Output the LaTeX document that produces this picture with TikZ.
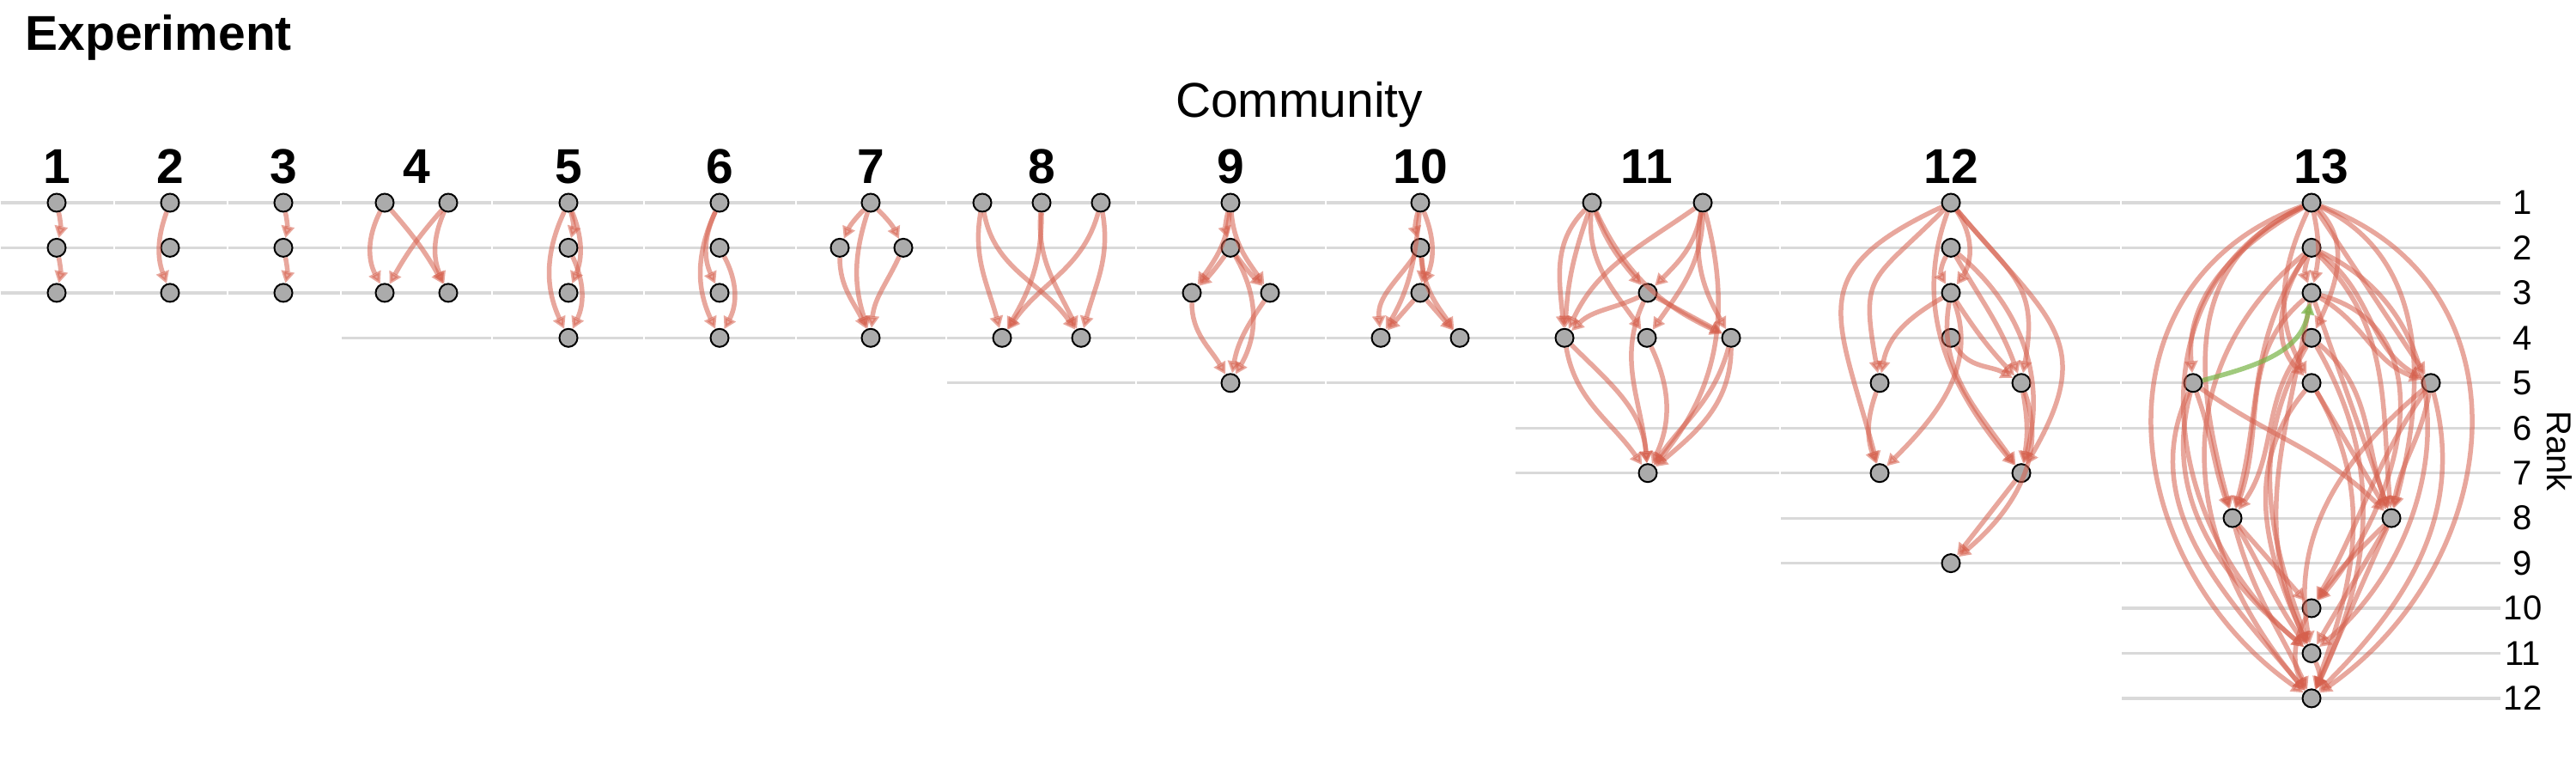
\documentclass[tikz,border=0pt]{standalone}
\usepackage{fontspec}
\setmainfont{Liberation Sans}
\usetikzlibrary{arrows.meta}

\begin{document}
\begin{tikzpicture}[
  vertex/.style={circle, draw=black, fill=r171g171b171, line width=0.02cm, minimum size=0.21cm, inner sep=0pt},
  link/.style={draw=r214g96b77, opacity=0.55, line width=0.055cm, -{Triangle[length=0.14cm, width=0.15cm]}},
  linkup/.style={link, draw=r120g180b70, opacity=0.7},
  gridline/.style={draw=r217g217b217, line width=0.032cm},
  commlabel/.style={font=\bfseries\fontsize{16.2}{19}\selectfont, anchor=base, inner sep=0pt},
  ranklabel/.style={font=\fontsize{11.4}{13}\selectfont, inner sep=0pt}]
                    \useasboundingbox (0,0) rectangle (30,9);
                    \fill[white] (0,0) rectangle (30,9);

                    % Changing color 217 217 217
                    \definecolor{r217g217b217}{rgb}{0.850980,0.850980,0.850980}%
                    % Changing color 171 171 171
                    \definecolor{r171g171b171}{rgb}{0.670588,0.670588,0.670588}%
                    % Changing color 214 96 77
                    \definecolor{r214g96b77}{rgb}{0.839216,0.376471,0.301961}%
                    % Changing color 120 180 70
                    \definecolor{r120g180b70}{rgb}{0.470588,0.705882,0.274510}%

                    % Marking title and axis titles
                    \node[font=\bfseries\fontsize{16.2}{19}\selectfont, anchor=base west, inner sep=0pt] (title) at (0.29,8.41) {Experiment};%
                    \node[font=\fontsize{16.2}{19}\selectfont, anchor=base, inner sep=0pt] (community) at (15.13,7.63) {Community};%
                    \node[ranklabel, rotate=-90] (ranktitle) at (29.81,3.75) {Rank};%

                    % Drawing grid lines, one piece per panel
                    \foreach \xa/\xb/\top in {0.00/1.33/3, 1.33/2.65/3, 2.65/3.97/3, 3.97/5.73/4, 5.73/7.50/4, 7.50/9.27/4, 9.27/11.02/4, 11.02/13.23/5, 13.23/15.44/5, 15.44/17.64/5, 17.64/20.73/7, 20.73/24.70/9, 24.70/29.13/12}
                      \foreach \r in {1,...,\top}
                        \draw[gridline] ({\xa+0.01},{6.64-0.5245*(\r-1)}) -- ({\xb-0.01},{6.64-0.5245*(\r-1)});%

                    % Marking panel labels
                    \foreach \c/\x in {1/0.66, 2/1.98, 3/3.30, 4/4.85, 5/6.62, 6/8.38, 7/10.14, 8/12.13, 9/14.33, 10/16.54, 11/19.18, 12/22.72, 13/27.03}
                      \node[commlabel] (lab\c) at (\x,6.87) {\c};%

                    % Marking rank labels
                    \foreach \r in {1,...,12}
                      \node[ranklabel] (rank\r) at (29.38,{6.64-0.5245*(\r-1)}) {\r};%

                    % Marking nodes of panels 1 to 3
                    \node[vertex] (c1r1) at (0.66,6.640) {};
                    \node[vertex] (c1r2) at (0.66,6.116) {};
                    \node[vertex] (c1r3) at (0.66,5.591) {};
                    \node[vertex] (c2r1) at (1.98,6.640) {};
                    \node[vertex] (c2r2) at (1.98,6.116) {};
                    \node[vertex] (c2r3) at (1.98,5.591) {};
                    \node[vertex] (c3r1) at (3.30,6.640) {};
                    \node[vertex] (c3r2) at (3.30,6.116) {};
                    \node[vertex] (c3r3) at (3.30,5.591) {};

                    % Marking nodes of panels 4 to 6
                    \node[vertex] (c4r1a) at (4.48,6.640) {};
                    \node[vertex] (c4r1b) at (5.22,6.640) {};
                    \node[vertex] (c4r3a) at (4.48,5.591) {};
                    \node[vertex] (c4r3b) at (5.22,5.591) {};
                    \node[vertex] (c5r1) at (6.62,6.640) {};
                    \node[vertex] (c5r2) at (6.62,6.116) {};
                    \node[vertex] (c5r3) at (6.62,5.591) {};
                    \node[vertex] (c5r4) at (6.62,5.067) {};
                    \node[vertex] (c6r1) at (8.38,6.640) {};
                    \node[vertex] (c6r2) at (8.38,6.116) {};
                    \node[vertex] (c6r3) at (8.38,5.591) {};
                    \node[vertex] (c6r4) at (8.38,5.067) {};

                    % Marking nodes of panels 7 to 10
                    \node[vertex] (c7r1) at (10.14,6.640) {};
                    \node[vertex] (c7r2a) at (9.78,6.116) {};
                    \node[vertex] (c7r2b) at (10.52,6.116) {};
                    \node[vertex] (c7r4) at (10.14,5.067) {};
                    \node[vertex] (c8r1a) at (11.44,6.640) {};
                    \node[vertex] (c8r1b) at (12.13,6.640) {};
                    \node[vertex] (c8r1c) at (12.82,6.640) {};
                    \node[vertex] (c8r4a) at (11.67,5.067) {};
                    \node[vertex] (c8r4b) at (12.59,5.067) {};
                    \node[vertex] (c9r1) at (14.33,6.640) {};
                    \node[vertex] (c9r2) at (14.33,6.116) {};
                    \node[vertex] (c9r3a) at (13.88,5.591) {};
                    \node[vertex] (c9r3b) at (14.79,5.591) {};
                    \node[vertex] (c9r5) at (14.33,4.542) {};
                    \node[vertex] (c10r1) at (16.54,6.640) {};
                    \node[vertex] (c10r2) at (16.54,6.116) {};
                    \node[vertex] (c10r3) at (16.54,5.591) {};
                    \node[vertex] (c10r4a) at (16.08,5.067) {};
                    \node[vertex] (c10r4b) at (17.00,5.067) {};

                    % Marking nodes of panel 11
                    \node[vertex] (c11r1a) at (18.54,6.640) {};
                    \node[vertex] (c11r1b) at (19.83,6.640) {};
                    \node[vertex] (c11r3) at (19.19,5.591) {};
                    \node[vertex] (c11r4a) at (18.22,5.067) {};
                    \node[vertex] (c11r4b) at (19.18,5.067) {};
                    \node[vertex] (c11r4c) at (20.16,5.067) {};
                    \node[vertex] (c11r7) at (19.19,3.493) {};

                    % Marking nodes of panel 12
                    \node[vertex] (c12r1) at (22.72,6.640) {};
                    \node[vertex] (c12r2) at (22.72,6.116) {};
                    \node[vertex] (c12r3) at (22.72,5.591) {};
                    \node[vertex] (c12r4) at (22.72,5.067) {};
                    \node[vertex] (c12r5a) at (21.89,4.542) {};
                    \node[vertex] (c12r5b) at (23.54,4.542) {};
                    \node[vertex] (c12r7a) at (21.89,3.493) {};
                    \node[vertex] (c12r7b) at (23.54,3.493) {};
                    \node[vertex] (c12r9) at (22.72,2.444) {};

                    % Marking nodes of panel 13
                    \node[vertex] (c13r1) at (26.92,6.640) {};
                    \node[vertex] (c13r2) at (26.92,6.116) {};
                    \node[vertex] (c13r3) at (26.92,5.591) {};
                    \node[vertex] (c13r4) at (26.92,5.067) {};
                    \node[vertex] (c13r5a) at (25.54,4.542) {};
                    \node[vertex] (c13r5b) at (26.92,4.542) {};
                    \node[vertex] (c13r5c) at (28.31,4.542) {};
                    \node[vertex] (c13r8a) at (26.00,2.969) {};
                    \node[vertex] (c13r8b) at (27.85,2.969) {};
                    \node[vertex] (c13r10) at (26.92,1.920) {};
                    \node[vertex] (c13r11) at (26.92,1.395) {};
                    \node[vertex] (c13r12) at (26.92,0.871) {};

                    % Drawing edges of panels 1 to 3
                    \draw[link] (c1r1) to[bend left=12] (c1r2);
                    \draw[link] (c1r2) to[bend left=12] (c1r3);
                    \draw[link] (c2r1) to[bend right=20] (c2r3);
                    \draw[link] (c3r1) to[bend left=12] (c3r2);
                    \draw[link] (c3r2) to[bend left=12] (c3r3);

                    % Drawing edges of panel 4
                    \draw[link] (c4r1a) to[bend right=27] (c4r3a);
                    \draw[link] (c4r1a) to[bend left=6] (c4r3b);
                    \draw[link] (c4r1b) to[bend right=6] (c4r3a);
                    \draw[link] (c4r1b) to[bend right=24] (c4r3b);

                    % Drawing edges of panels 5 and 6
                    \draw[link] (c5r1) to[bend left=15] (c5r2);
                    \draw[link] (c5r1) to[bend left=22] (c5r3);
                    \draw[link] (c5r2) to[bend left=25] (c5r4);
                    \draw[link] (c5r1) to[bend right=25] (c5r4);
                    \draw[link] (c6r1) to[bend right=25] (c6r3);
                    \draw[link] (c6r1) to[bend right=25] (c6r4);
                    \draw[link] (c6r2) to[bend left=28] (c6r4);

                    % Drawing edges of panel 7
                    \draw[link] (c7r1) to[bend right=10] (c7r2a);
                    \draw[link] (c7r1) to[bend left=10] (c7r2b);
                    \draw[link] (c7r1) to[bend right=18] (c7r4);
                    \draw[link] (c7r2a) to[out=-90,in=115] (c7r4);
                    \draw[link] (c7r2b) to[out=-115,in=85] (c7r4);

                    % Drawing edges of panel 8
                    \draw[link] (c8r1a) to[out=-100,in=105] (c8r4a);
                    \draw[link] (c8r1a) to[out=-80,in=125] (c8r4b);
                    \draw[link] (c8r1b) to[out=-90,in=60] (c8r4a);
                    \draw[link] (c8r1b) to[out=-95,in=115] (c8r4b);
                    \draw[link] (c8r1c) to[out=-105,in=55] (c8r4a);
                    \draw[link] (c8r1c) to[out=-80,in=75] (c8r4b);

                    % Drawing edges of panel 9
                    \draw[link] (c9r1) to[bend right=15] (c9r2);
                    \draw[link] (c9r1) to[out=-95,in=55] (c9r3a);
                    \draw[link] (c9r1) to[out=-85,in=125] (c9r3b);
                    \draw[link] (c9r2) to[bend left=5] (c9r3a);
                    \draw[link] (c9r2) to[bend right=5] (c9r3b);
                    \draw[link] (c9r2) to[bend left=30] (c9r5);
                    \draw[link] (c9r3a) to[out=-90,in=120] (c9r5);
                    \draw[link] (c9r3b) to[out=-125,in=80] (c9r5);

                    % Drawing edges of panel 10
                    \draw[link] (c10r1) to[bend right=15] (c10r2);
                    \draw[link] (c10r1) to[bend left=22] (c10r3);
                    \draw[link] (c10r2) to[bend left=8] (c10r3);
                    \draw[link] (c10r2) to[out=-125,in=95] (c10r4a);
                    \draw[link] (c10r3) to (c10r4a);
                    \draw[link] (c10r1) to[out=-95,in=60] (c10r4a);
                    \draw[link] (c10r3) to (c10r4b);
                    \draw[link] (c10r2) to[out=-85,in=125] (c10r4b);

                    % Drawing edges of panel 11
                    \draw[link] (c11r1a) to[out=-135,in=95] (c11r4a);
                    \draw[link] (c11r1a) to[bend right=8] (c11r4a);
                    \draw[link] (c11r1a) to[out=-70,in=130] (c11r3);
                    \draw[link] (c11r1a) to[out=-95,in=125] (c11r4b);
                    \draw[link] (c11r1a) to[out=-65,in=155] (c11r4c);
                    \draw[link] (c11r1b) to[out=-145,in=65] (c11r4a);
                    \draw[link] (c11r1b) to[out=-100,in=45] (c11r3);
                    \draw[link] (c11r1b) to[out=-90,in=55] (c11r4b);
                    \draw[link] (c11r1b) to[out=-100,in=120] (c11r4c);
                    \draw[link] (c11r1b) to[out=-75,in=50] (c11r7);
                    \draw[link] (c11r3) to[out=-155,in=45] (c11r4a);
                    \draw[link] (c11r3) to (c11r4c);
                    \draw[link] (c11r3) to[out=-115,in=95] (c11r7);
                    \draw[link] (c11r4a) to[out=-80,in=125] (c11r7);
                    \draw[link] (c11r4a) to[out=-45,in=95] (c11r7);
                    \draw[link] (c11r4b) to[bend left=25] (c11r7);
                    \draw[link] (c11r4c) to[out=-105,in=55] (c11r7);
                    \draw[link] (c11r4c) to[out=-90,in=40] (c11r7);

                    % Drawing edges of panel 12
                    \draw[link] (c12r1) to[out=-135,in=100,looseness=1.5] (c12r5a);
                    \draw[link] (c12r1) to[out=-155,in=105,looseness=1.5] (c12r7a);
                    \draw[link] (c12r1) to[bend left=35] (c12r3);
                    \draw[link] (c12r1) to[out=-50,in=80,looseness=1.3] (c12r5b);
                    \draw[link] (c12r1) to[out=-50,in=60,looseness=1.4] (c12r7b);
                    \draw[link] (c12r1) to[out=-110,in=130] (c12r7b);
                    \draw[link] (c12r2) to[bend right=30] (c12r3);
                    \draw[link] (c12r2) to[out=-60,in=110] (c12r5b);
                    \draw[link] (c12r2) to[out=-40,in=75] (c12r7b);
                    \draw[link] (c12r3) to[out=-150,in=80] (c12r5a);
                    \draw[link] (c12r3) to[out=-70,in=45] (c12r7a);
                    \draw[link] (c12r3) to[bend right=5] (c12r5b);
                    \draw[link] (c12r3) to[out=-100,in=125] (c12r7b);
                    \draw[link] (c12r4) to[out=-60,in=150] (c12r5b);
                    \draw[link] (c12r5a) to[bend right=20] (c12r7a);
                    \draw[link] (c12r5b) to[bend left=10] (c12r7b);
                    \draw[link] (c12r5b) to[out=-70,in=40] (c12r9);
                    \draw[link] (c12r7b) to (c12r9);

                    % Drawing edges of panel 13 from rank 1
                    \draw[link] (c13r1) to[bend left=12] (c13r3);
                    \draw[link] (c13r1) to[out=-45,in=65] (c13r4);
                    \draw[link] (c13r1) to[out=-150,in=95] (c13r5a);
                    \draw[link] (c13r1) to (c13r5c);
                    \draw[link] (c13r1) to[out=-155,in=105,looseness=1.1] (c13r8a);
                    \draw[link] (c13r1) to[out=-155,in=140,looseness=1.1] (c13r11);
                    \draw[link] (c13r1) to[out=-160,in=145,looseness=1.2] (c13r12);
                    \draw[link] (c13r1) to[out=-25,in=75] (c13r8b);
                    \draw[link] (c13r1) to[out=-20,in=35,looseness=1.2] (c13r12);
                    \draw[link] (c13r1) to[out=-115,in=120] (c13r5b);

                    % Drawing edges of panel 13 from ranks 2 to 4
                    \draw[link] (c13r2) to[bend right=20] (c13r3);
                    \draw[link] (c13r2) to[out=-125,in=135] (c13r5b);
                    \draw[link] (c13r2) to[out=-125,in=75] (c13r8a);
                    \draw[link] (c13r2) to[out=-35,in=150] (c13r5c);
                    \draw[link] (c13r2) to[out=-45,in=95] (c13r8b);
                    \draw[link] (c13r2) to[out=-25,in=40,looseness=1.1] (c13r11);
                    \draw[link] (c13r2) to[out=-140,in=130,looseness=1.1] (c13r12);
                    \draw[link] (c13r3) to[out=-30,in=160] (c13r5c);
                    \draw[link] (c13r3) to (c13r8b);
                    \draw[link] (c13r3) to[out=-140,in=70] (c13r8a);
                    \draw[link] (c13r3) to[out=-15,in=50,looseness=1.1] (c13r10);
                    \draw[link] (c13r3) to[out=-100,in=115] (c13r11);
                    \draw[link] (c13r4) to[out=-130,in=55] (c13r8a);
                    \draw[link] (c13r4) to[out=-40,in=110] (c13r8b);
                    \draw[link] (c13r4) to[out=-60,in=65] (c13r12);
                    \draw[link] (c13r4) to[out=-120,in=110] (c13r11);

                    % Drawing edges of panel 13 from rank 5
                    \draw[linkup] (c13r5a) to[out=15,in=-100] (c13r3);
                    \draw[link] (c13r5a) to[out=-70,in=110] (c13r8a);
                    \draw[link] (c13r5a) to[out=-35,in=135] (c13r8b);
                    \draw[link] (c13r5a) to[out=-105,in=140] (c13r11);
                    \draw[link] (c13r5a) to[out=-115,in=130] (c13r12);
                    \draw[link] (c13r5b) to (c13r8b);
                    \draw[link] (c13r5b) to[out=-130,in=115] (c13r11);
                    \draw[link] (c13r5b) to[out=-60,in=70] (c13r12);
                    \draw[link] (c13r5c) to[out=-140,in=100] (c13r11);
                    \draw[link] (c13r5c) to[out=-100,in=80] (c13r8b);
                    \draw[link] (c13r5c) to[out=-75,in=45] (c13r12);
                    \draw[link] (c13r5c) to[out=-125,in=60] (c13r10);

                    % Drawing edges of panel 13 from ranks 8 to 11
                    \draw[link] (c13r8a) to (c13r10);
                    \draw[link] (c13r8a) to[out=-60,in=125] (c13r11);
                    \draw[link] (c13r8a) to[out=-75,in=115] (c13r12);
                    \draw[link] (c13r8b) to (c13r11);
                    \draw[link] (c13r8b) to (c13r12);
                    \draw[link] (c13r8b) to[out=-135,in=55] (c13r10);
                    \draw[link] (c13r10) to[bend right=30] (c13r12);
                    \draw[link] (c13r11) to[bend left=25] (c13r12);
\end{tikzpicture}
\end{document}
